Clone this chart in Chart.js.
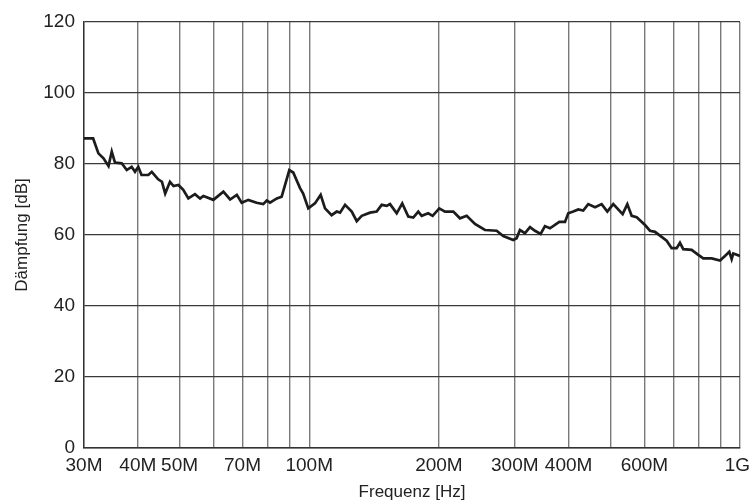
<!DOCTYPE html>
<html>
<head>
<meta charset="utf-8">
<script src="https://cdn.jsdelivr.net/npm/chart.js@4.4.1/dist/chart.umd.min.js"></script>
<style>
  html, body { margin: 0; padding: 0; background: #fff; }
  #wrap { width: 749px; height: 503px; }
</style>
</head>
<body>
<div id="wrap"><canvas id="myChart" width="749" height="503"></canvas></div>
<script>
// frequency in MHz, damping in dB
const freqMHz = [30.0, 31.5, 32.4, 33.3, 34.2, 34.8, 35.4, 36.7, 37.7, 38.7, 39.4, 40.1, 40.8, 42.3, 43.1, 44.6,
    45.5, 46.3, 47.5, 48.4, 49.7, 51.0, 52.4, 54.3, 55.8, 56.8, 59.9, 63.2, 65.5, 67.9, 69.7, 72.2, 75.5, 78.2,
    79.7, 81.1, 84.1, 86.3, 89.9, 91.8, 95.2, 96.8, 99.5, 103.1, 106.3, 108.8, 112.7, 115.8, 117.9, 121.1, 125.5,
    128.9, 132.4, 138.4, 143.4, 147.3, 151.3, 154.0, 159.6, 164.4, 169.8, 174.4, 179.1, 182.4, 188.9, 193.4,
    200.4, 206.6, 216.0, 223.8, 232.0, 242.5, 255.8, 272.3, 282.1, 297.6, 303.0, 308.4, 316.8, 325.5, 334.2,
    344.5, 352.5, 362.1, 380.7, 392.4, 399.3, 410.1, 421.2, 432.6, 444.3, 460.8, 477.3, 492.0, 507.9, 534.0,
    547.5, 560.4, 575.7, 601.8, 618.0, 634.8, 675.6, 693.9, 712.8, 725.4, 738.3, 772.2, 800.1, 821.7, 859.5,
    898.5, 922.8, 944.4, 956.4, 964.8, 1000];
const dampingDb = [87.2, 87.2, 83.0, 81.6, 79.4, 83.5, 80.4, 80.2, 78.3, 79.2, 77.8, 79.2, 76.9, 76.9, 77.8, 75.7,
    75.0, 71.7, 75.0, 73.8, 74.1, 72.7, 70.3, 71.5, 70.3, 71.0, 69.9, 72.2, 70.0, 71.3, 69.1, 69.9, 69.1, 68.7,
    69.7, 69.1, 70.3, 70.8, 78.3, 77.6, 73.2, 71.7, 67.5, 68.9, 71.3, 67.5, 65.6, 66.6, 66.3, 68.5, 66.6,
    63.9, 65.4, 66.3, 66.6, 68.5, 68.2, 68.7, 66.1, 68.9, 65.2, 64.9, 66.6, 65.4, 66.1, 65.4,
    67.5, 66.6, 66.6, 64.7, 65.4, 63.1, 61.4, 61.2, 59.7, 58.6, 59.1, 61.4, 60.5, 62.2, 61.2,
    60.3, 62.5, 61.9, 63.7, 63.7, 66.1, 66.6, 67.2, 66.9, 68.7, 67.8, 68.7, 66.6, 68.7, 65.9,
    68.7, 65.4, 65.0, 62.8, 61.2, 60.9, 58.4, 56.3, 56.3, 57.8, 56.0, 55.8, 54.4, 53.4, 53.4,
    52.8, 54.1, 55.3, 53.2, 54.8, 54.1];

// grid lines on the x axis, and which of them carry a label
const xGrid = [30, 40, 50, 60, 70, 80, 90, 100, 200, 300, 400, 500, 600, 700, 800, 900, 1000];
const xLabels = {30: "30M", 40: "40M", 50: "50M", 70: "70M", 100: "100M", 200: "200M",
    300: "300M", 400: "400M", 600: "600M", 1000: "1G "}; // trailing space keeps 1G inside the canvas
const yTicks = [0, 20, 40, 60, 80, 100, 120];

const points = freqMHz.map((f, i) => ({ x: f, y: dampingDb[i] }));

Chart.defaults.font.family = "'Liberation Sans', Arial, sans-serif";
Chart.defaults.color = "#222";

const ctx = document.getElementById("myChart").getContext("2d");
const config = {
    type: "line",
    data: {
        datasets: [{
            label: "Dämpfung",
            data: points,
            borderColor: "#1c1c1c",
            borderWidth: 2.7,
            pointRadius: 0,
            tension: 0,
            fill: false
        }]
    },
    options: {
        responsive: false,
        animation: false,
        layout: { padding: { top: 22, right: 9, left: 0, bottom: 0 } },
        plugins: {
            legend: { display: false },
            tooltip: { enabled: false }
        },
        scales: {
            x: {
                type: "logarithmic",
                min: 30,
                max: 1000,
                afterBuildTicks: function (scale) {
                    scale.ticks = xGrid.map(v => ({ value: v }));
                },
                afterFit: function (scale) {
                    scale.height = 55;
                    scale.paddingLeft = 0;
                    scale.paddingRight = 0;
                },
                ticks: {
                    autoSkip: false,
                    maxRotation: 0,
                    padding: 6,
                    font: { size: 19 },
                    color: "#222",
                    callback: function (value) {
                        return xLabels[value] || "";
                    }
                },
                grid: {
                    color: "#7a7a7a",
                    lineWidth: 1.4,
                    drawTicks: false
                },
                border: { color: "#333", width: 1.4 },
                title: {
                    display: true,
                    text: "Frequenz [Hz]",
                    font: { size: 17 },
                    color: "#222",
                    padding: { top: 11, bottom: 0 }
                }
            },
            y: {
                min: 0,
                max: 120,
                afterBuildTicks: function (scale) {
                    scale.ticks = yTicks.map(v => ({ value: v }));
                },
                afterFit: function (scale) {
                    scale.width = 84;
                },
                ticks: {
                    padding: 9,
                    font: { size: 19 },
                    color: "#222"
                },
                grid: {
                    color: "#3a3a3a",
                    lineWidth: 1.2,
                    drawTicks: false
                },
                border: { color: "#333", width: 1.4 },
                title: {
                    display: true,
                    text: "Dämpfung [dB]",
                    font: { size: 17 },
                    color: "#222",
                    padding: { top: 12, bottom: 6 }
                }
            }
        }
    }
};
let myChart = new Chart(ctx, config);
</script>
</body>
</html>
